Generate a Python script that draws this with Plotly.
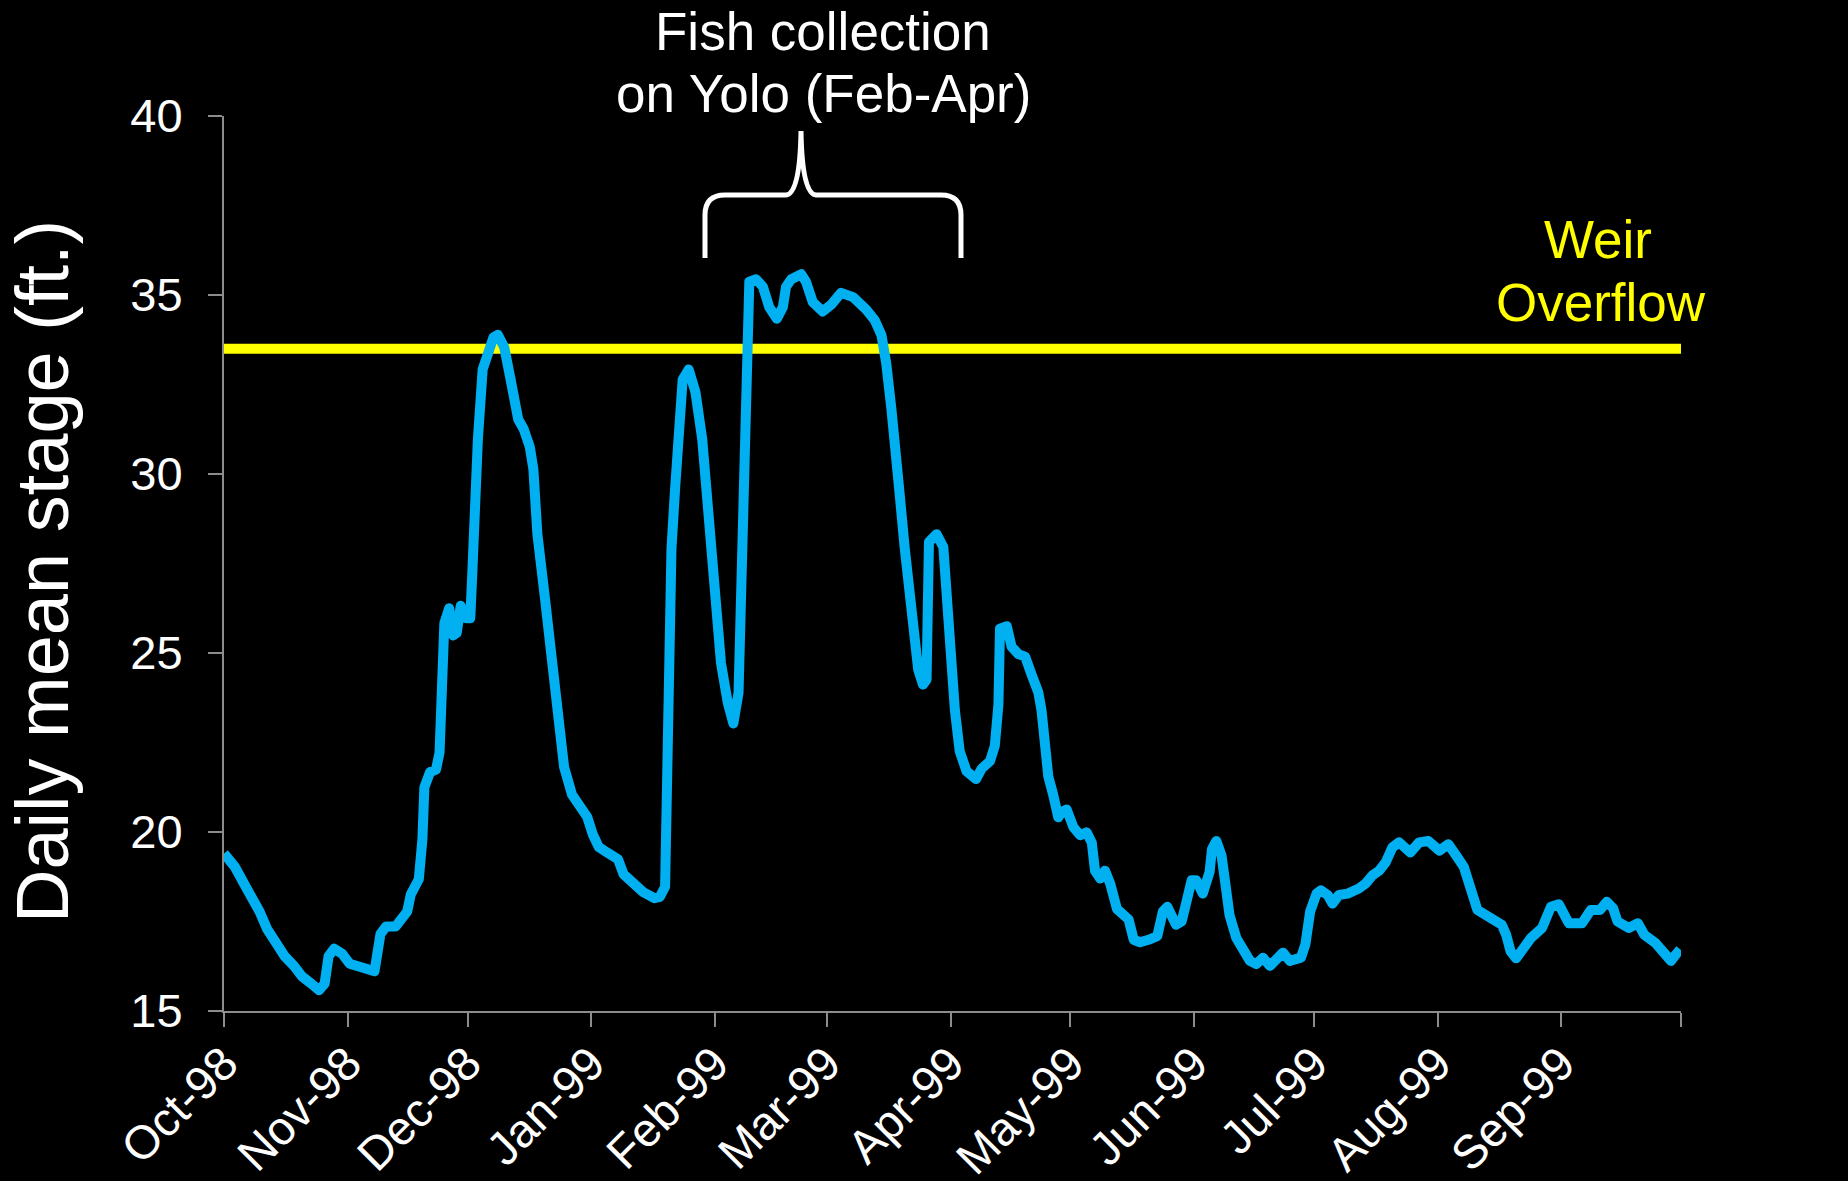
import pandas as pd
import plotly.graph_objects as go

# ---------------- data ----------------
START_DATE = "1998-10-01"
DAY_OFFSET = [
    0, 2.7, 5.1, 7, 8.9, 10.8, 12.8, 15.2, 17.6, 19.5, 21.9, 23.8, 25.2, 26.2, 27.6, 29.6,
    31.5, 33.9, 35.8, 37.7, 39.2, 40.6, 43, 44.4, 45.9, 46.8, 48.8, 49.7, 50.2, 51.6, 53.1,
    54, 54.5, 55.2, 56.4, 57.4, 58.3, 59.3, 60.7, 61.7, 62.2, 62.7, 63.6, 64.8, 66.1, 67.5,
    68.6, 70.2, 71.8, 73.7, 75.1, 76.6, 77.5, 78.5, 80.4, 81.9, 82.8, 83.8, 85.2, 87.2, 89.1,
    91, 92.4, 93.9, 95.8, 98.7, 100.1, 102, 104.9, 107.8, 109.2, 110.5, 110.8, 111.4, 112.1,
    113, 114, 114.9, 116.4, 118.1, 119.8, 121.2, 122.9, 124.5, 126.2, 127.6, 128.9, 129.9,
    130.9, 131.6, 133.3, 135, 136.6, 138.5, 140, 140.8, 142.1, 144.6, 145.8, 147.5, 150,
    152.1, 154.6, 157.6, 160.9, 163, 164.7, 165.9, 167.2, 168, 169.3, 170.5, 171.8, 173,
    173.9, 175.1, 176, 176.6, 178.5, 180.2, 181, 181.8, 183.1, 184.3, 186, 188.4, 189.8,
    191.9, 193.1, 194, 194.4, 196.1, 197.3, 199, 200.7, 202.3, 204, 204.8, 205.7, 206.5,
    207.7, 209, 209.8, 211.1, 212.8, 214.5, 216.1, 217.4, 218.2, 219.5, 220.7, 222, 223.7,
    224.9, 226.6, 227.9, 229.5, 231.6, 233.8, 235.2, 236.3, 238.5, 239.9, 241.3, 242.4,
    243.6, 245.2, 246.9, 247.5, 248.6, 249.9, 250.8, 251.9, 253.6, 255.3, 257, 258.6, 260.3,
    262, 263.7, 265.3, 267, 268.7, 269.8, 270.9, 272.1, 273.7, 274.8, 276.5, 277.7, 279.3,
    281.5, 284.3, 286, 287.7, 289.4, 291, 292.7, 294.4, 297.2, 299.4, 301.7, 304.5, 306.7,
    309, 310.6, 312.3, 314, 316.7, 320.1, 321.2, 322.3, 323.7, 325.7, 327.4, 330.2, 332.4,
    334.4, 336.9, 338.6, 340.2, 342.4, 344.7, 346.4, 348, 349.1, 351.9, 354.2, 355.8, 358.6,
    359.8, 362.5, 363.7, 364.8,
]
STAGE_FT = [
    19.4, 19.03, 18.54, 18.2, 17.78, 17.29, 16.94, 16.53, 16.25, 15.97, 15.76, 15.58, 15.76,
    16.53, 16.74, 16.6, 16.32, 16.25, 16.22, 16.11, 17.15, 17.36, 17.36, 17.57, 17.78, 18.26,
    18.68, 19.79, 21.25, 21.67, 21.74, 22.22, 23.75, 25.83, 26.25, 25.49, 25.56, 26.32, 25.97,
    25.97, 27.22, 29.3, 30.97, 32.92, 33.47, 33.82, 33.89, 33.54, 32.64, 31.53, 31.25, 30.76,
    30.14, 28.33, 26.53, 25.14, 24.03, 23.06, 21.81, 21.04, 20.69, 20.42, 19.93, 19.58, 19.44,
    19.24, 18.82, 18.61, 18.33, 18.15, 18.19, 18.47, 20.28, 23.75, 27.92, 29.58, 30.97, 32.64,
    32.92, 32.29, 30.97, 29.03, 26.81, 24.72, 23.61, 23.03, 23.89, 27.92, 32.08, 35.37, 35.44,
    35.23, 34.66, 34.34, 34.66, 35.23, 35.44, 35.58, 35.37, 34.8, 34.54, 34.73, 35.06, 34.94,
    34.59, 34.3, 33.88, 33.09, 31.81, 30.53, 29.39, 27.96, 26.54, 25.26, 24.54, 24.12, 24.26,
    28.1, 28.32, 27.96, 26.54, 24.97, 23.4, 22.26, 21.7, 21.48, 21.77, 21.98, 22.41, 23.55,
    25.68, 25.75, 25.18, 24.97, 24.9, 24.4, 23.9, 23.4, 21.98, 21.55, 21.05, 20.41, 20.56,
    20.63, 20.13, 19.91, 19.99, 19.7, 18.92, 18.7, 18.92, 18.56, 17.85, 17.71, 17.56, 16.99,
    16.92, 16.99, 17.09, 17.78, 17.91, 17.41, 17.5, 18.14, 18.65, 18.65, 18.28, 18.88, 19.52,
    19.75, 19.34, 18.6, 17.68, 17.04, 16.67, 16.4, 16.31, 16.49, 16.26, 16.49, 16.63, 16.4,
    16.49, 16.49, 16.86, 17.78, 18.28, 18.37, 18.24, 18.0, 18.24, 18.28, 18.42, 18.56, 18.79,
    18.92, 19.15, 19.57, 19.71, 19.43, 19.71, 19.75, 19.48, 19.66, 19.29, 19.02, 18.42, 17.82,
    17.64, 17.41, 17.13, 16.67, 16.47, 16.76, 17.04, 17.32, 17.91, 17.98, 17.45, 17.45, 17.45,
    17.82, 17.82, 18.05, 17.87, 17.5, 17.32, 17.45, 17.13, 16.9, 16.72, 16.4, 16.58, 16.72,
]
WEIR_LEVEL = 33.5
MONTH_STARTS = [
    "1998-10-01", "1998-11-01", "1998-12-01", "1999-01-01", "1999-02-01", "1999-03-01",
    "1999-04-01", "1999-05-01", "1999-06-01", "1999-07-01", "1999-08-01", "1999-09-01",
    "1999-10-01",
]
MONTH_LABELS = [
    "Oct-98", "Nov-98", "Dec-98", "Jan-99", "Feb-99", "Mar-99", "Apr-99", "May-99",
    "Jun-99", "Jul-99", "Aug-99", "Sep-99", "",
]
Y_TICKS = [15, 20, 25, 30, 35, 40]

# ---------------- layout geometry (pixels) ----------------
W, H = 1848, 1181
L, R, T, B = 224, 167, 116, 170
PW, PH = W - L - R, H - T - B
FONT = "Liberation Sans, Arial, sans-serif"


def px(x):
    return (x - L) / PW


def py(y):
    return (H - B - y) / PH


dates = pd.Timestamp(START_DATE) + pd.to_timedelta(DAY_OFFSET, unit="D")

fig = go.Figure()
fig.add_trace(go.Scatter(
    x=[MONTH_STARTS[0], MONTH_STARTS[-1]], y=[WEIR_LEVEL, WEIR_LEVEL],
    mode="lines", line=dict(color="#FFFF00", width=10), hoverinfo="skip",
    showlegend=False, cliponaxis=False,
))
fig.add_trace(go.Scatter(
    x=dates, y=STAGE_FT, mode="lines",
    line=dict(color="#00B0F0", width=10), showlegend=False, cliponaxis=False,
))

# curly brace over the fish collection period
pts = [
    "M", (705, 258), "L", (705, 215), "Q", (705, 195), (725, 195), "L", (786, 195),
    "Q", (800, 194), (801, 131), "Q", (802, 194), (816, 195), "L", (941, 195),
    "Q", (961, 195), (961, 215), "L", (961, 258),
]
path = ""
for p in pts:
    if isinstance(p, str):
        path += p + " "
    else:
        path += f"{px(p[0]):.5f},{py(p[1]):.5f} "
fig.add_shape(type="path", path=path.strip(), xref="paper", yref="paper",
              line=dict(color="white", width=5), fillcolor="rgba(0,0,0,0)")

ann = [
    ("Fish collection", 823, 31, "white", 53),
    ("on Yolo (Feb-Apr)", 823, 94, "white", 53),
    ("Weir", 1598, 239, "#FFFF00", 53),
    ("Overflow", 1601, 303, "#FFFF00", 53),
]
for text, x, y, col, size in ann:
    fig.add_annotation(text=text, x=px(x), y=py(y), xref="paper", yref="paper",
                       xanchor="center", yanchor="middle", showarrow=False,
                       font=dict(family=FONT, size=size, color=col))

fig.add_annotation(text="Daily mean stage (ft.)", x=px(42), y=py(572), xref="paper",
                   yref="paper", xanchor="center", yanchor="middle", textangle=-90,
                   showarrow=False, font=dict(family=FONT, size=74, color="white"))

axis_common = dict(
    showgrid=False, zeroline=False, showline=True, linecolor="#8c8c8c", linewidth=2,
    ticks="outside", ticklen=14, tickwidth=2, tickcolor="#8c8c8c",
    tickfont=dict(family=FONT, size=47, color="white"), automargin=False,
)
fig.update_xaxes(
    type="date", range=[MONTH_STARTS[0], MONTH_STARTS[-1]], tickmode="array",
    tickvals=MONTH_STARTS, ticktext=MONTH_LABELS, tickangle=-45,
    ticklabelstandoff=-10, **axis_common,
)
fig.update_yaxes(range=[15, 40], tickmode="array", tickvals=Y_TICKS,
                 ticklabelstandoff=16, **axis_common)

fig.update_layout(
    width=W, height=H, margin=dict(l=L, r=R, t=T, b=B, pad=0),
    paper_bgcolor="black", plot_bgcolor="black", template="none",
    font=dict(family=FONT, color="white"),
)
fig.write_html(
    "out.html",
    config={"displayModeBar": False},
    post_script="document.body.style.margin='0';document.body.style.background='black';"
                "document.querySelectorAll('.scatterlayer path.js-line').forEach("
                "function(p){p.style.strokeLinejoin='round';});",
)
